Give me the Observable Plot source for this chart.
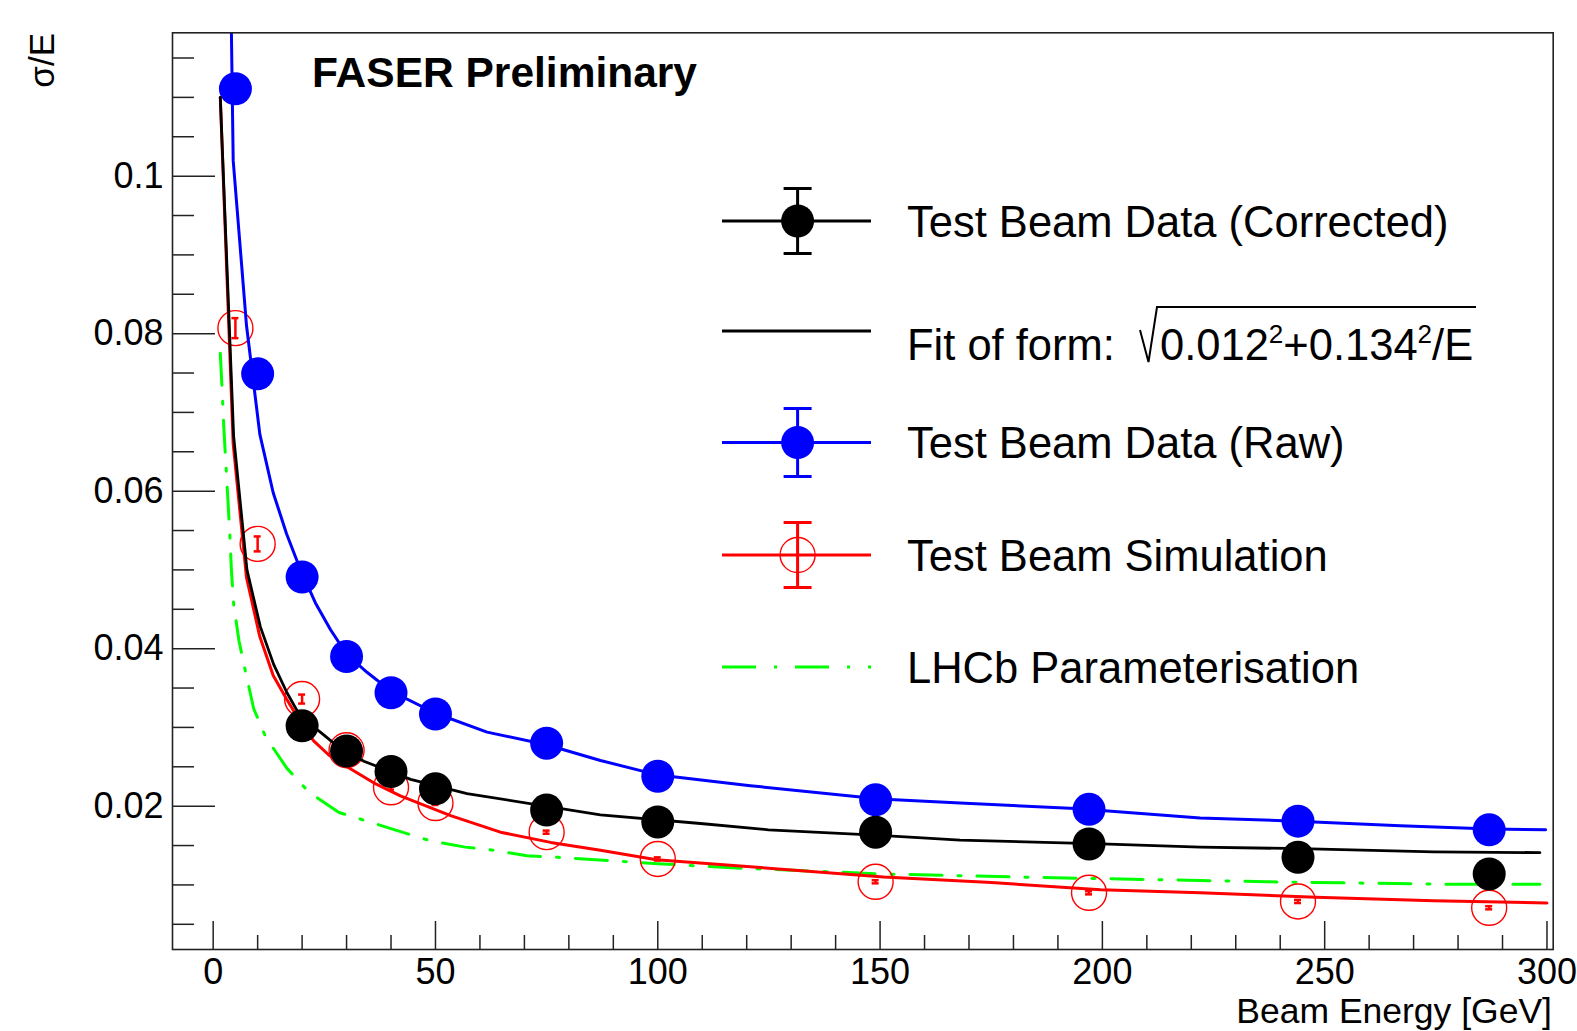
<!DOCTYPE html>
<html><head><meta charset="utf-8">
<script src="https://cdn.jsdelivr.net/npm/d3@7"></script>
<script src="https://cdn.jsdelivr.net/npm/@observablehq/plot@0.6"></script>
<style>html,body{margin:0;padding:0;background:#fff;overflow:hidden}</style>
</head><body><div id="chart"></div>
<script>
// ---- data ----
const energies = [5, 10, 20, 30, 40, 50, 75, 100, 149, 197, 244, 287];
const rawSigma = [0.1111, 0.0749, 0.0491, 0.0390, 0.0344, 0.0317, 0.0280, 0.0238, 0.0208, 0.0196, 0.0181, 0.0170];
const corrEnergies = [20, 30, 40, 50, 75, 100, 149, 197, 244, 287];
const corrSigma = [0.0302, 0.0270, 0.0244, 0.0222, 0.0195, 0.0180, 0.0167, 0.0152, 0.0135, 0.0114];
const simSigma = [0.0807, 0.0533, 0.0336, 0.0271, 0.0224, 0.0204, 0.0167, 0.0133, 0.0104, 0.0090, 0.0079, 0.0071];
const simErr = [0.00127, 0.00095, 0.00057, 0.0004, 0.0003, 0.00025, 0.0002, 0.0002, 0.0002, 0.0002, 0.0002, 0.0002];

// curves as drawn (x in GeV, sigma/E)
const corrFitCurve = [[1.6,0.1100],[4.6,0.0670],[7.6,0.0500],[10.6,0.0428],[13.6,0.0380],[16.6,0.0344],[19.6,0.0314],[24.1,0.0294],[28,0.0276],[33.9,0.0257],[44.4,0.0234],[57.1,0.0216],[87.1,0.0189],[109.6,0.0178],[124.9,0.0170],[150,0.0163],[168,0.0157],[199.7,0.0152],[222,0.0148],[244.6,0.0146],[274.5,0.0142],[298.4,0.0141]];
const rawFitCurve = [[4.1,0.1182],[4.5,0.1020],[7.5,0.0810],[10.5,0.0672],[13.5,0.0598],[16.5,0.0546],[19.5,0.0502],[23.0,0.0458],[26.4,0.0424],[30,0.0393],[34.6,0.0370],[40,0.0346],[50,0.0318],[61.6,0.0294],[75,0.0278],[87.1,0.0258],[99.7,0.0240],[120.8,0.0226],[150,0.0209],[168,0.0204],[193.9,0.0197],[222,0.0185],[243.8,0.0181],[267,0.0175],[287.3,0.0171],[299.7,0.0170]];
const simFitCurve = [[1.6,0.1100],[4.5,0.0660],[7.5,0.0490],[10.5,0.0415],[13.5,0.0366],[16.5,0.0336],[19.5,0.0308],[22.6,0.0283],[26,0.0265],[30.1,0.0250],[36,0.0230],[42.1,0.0213],[53.4,0.0188],[64.6,0.0167],[75.9,0.0154],[87.1,0.0144],[99.7,0.0132],[120.8,0.0123],[150.8,0.0110],[175,0.0103],[199.6,0.0094],[222,0.0090],[248,0.00845],[274.5,0.0080],[300,0.0077]];
const lhcbCurve = [[1.6,0.0775],[2.0,0.0730],[2.4,0.0680],[2.8,0.0640],[3.3,0.0590],[3.7,0.0550],[4.1,0.0500],[4.6,0.0457],[5.8,0.0410],[7.3,0.0370],[9.1,0.0324],[11.8,0.0288],[16.6,0.0248],[21.5,0.0218],[28.3,0.0192],[34.6,0.0181],[42.5,0.0167],[48.9,0.0156],[56.7,0.0148],[63.1,0.0144],[70.6,0.0137],[77.7,0.0135],[100,0.0127],[115.6,0.0122],[150,0.0114],[181,0.0110],[199.6,0.0108],[237,0.0104],[274.5,0.0101],[298.4,0.0101]];

const xMajorTicks = [0, 50, 100, 150, 200, 250, 300];
const xTickLabels = ["0", "50", "100", "150", "200", "250", "300"];
const xMinorTicks = [10,20,30,40,60,70,80,90,110,120,130,140,160,170,180,190,210,220,230,240,260,270,280,290];
const yMajorTicks = [0.02, 0.04, 0.06, 0.08, 0.1];
const yTickLabels = ["0.02", "0.04", "0.06", "0.08", "0.1"];
const yMinorTicks = [0.005,0.01,0.015,0.025,0.03,0.035,0.045,0.05,0.055,0.065,0.07,0.075,0.085,0.09,0.095,0.105,0.11,0.115];

const legendLabels = ["Test Beam Data (Corrected)", "Fit of form:", "Test Beam Data (Raw)", "Test Beam Simulation", "LHCb Parameterisation"];
const titleText = "FASER Preliminary";
const xTitle = "Beam Energy [GeV]";
const yTitle = "σ/E";

// ---- build tables ----
const raw = energies.map((e, i) => ({x: e, y: rawSigma[i]}));
const corr = corrEnergies.map((e, i) => ({x: e, y: corrSigma[i]}));
const sim = energies.map((e, i) => ({x: e, y: simSigma[i], lo: simSigma[i] - simErr[i], hi: simSigma[i] + simErr[i]}));
const pts = a => a.map(([x, y]) => ({x, y}));

const FONT = "'Liberation Sans', Arial, Helvetica, sans-serif";
const W = 1577, H = 1031, mL = 172, mR = 24.3, mT = 32.3, mB = 82;
const fw = W - mL - mR, fh = H - mT - mB;
const TICK = "#222";
const RED = "#ff0000", BLUE = "#0000ff", GREEN = "#00ff00";

const chart = Plot.plot({
  width: W, height: H,
  marginLeft: mL, marginRight: mR, marginTop: mT, marginBottom: mB,
  style: {fontFamily: FONT, background: "#fff", color: "#000"},
  x: {domain: [-9.15, 301.4]},
  y: {domain: [0.0018, 0.1182]},
  marks: [
    Plot.ruleY(yMinorTicks, {y: d => d, insetRight: fw - 22, stroke: TICK, strokeWidth: 1.5}),
    Plot.ruleY(yMajorTicks, {y: d => d, insetRight: fw - 43, stroke: TICK, strokeWidth: 1.5}),
    Plot.ruleX(xMinorTicks, {x: d => d, insetTop: fh - 14, stroke: TICK, strokeWidth: 1.5}),
    Plot.ruleX(xMajorTicks, {x: d => d, insetTop: fh - 28, stroke: TICK, strokeWidth: 1.5}),
    Plot.axisY({ticks: yMajorTicks, tickSize: 0, tickPadding: 9, fontSize: 36, label: null,
      tickFormat: d => yTickLabels[yMajorTicks.indexOf(d)]}),
    Plot.axisX({ticks: xMajorTicks, tickSize: 0, tickPadding: 8.5, fontSize: 36, label: null,
      tickFormat: d => xTickLabels[xMajorTicks.indexOf(d)]}),
    // LHCb parameterisation
    Plot.line(pts(lhcbCurve), {x: "x", y: "y", stroke: GREEN, strokeWidth: 3, strokeDasharray: "32,16,3,16", clip: true}),
    // simulation
    Plot.line(pts(simFitCurve), {x: "x", y: "y", stroke: RED, strokeWidth: 3, clip: true}),
    Plot.ruleX(sim, {x: "x", y1: "lo", y2: "hi", stroke: RED, strokeWidth: 2.5}),
    Plot.ruleY(sim, {y: "hi", x1: "x", x2: "x", insetLeft: -3.5, insetRight: -3.5, stroke: RED, strokeWidth: 2.5}),
    Plot.ruleY(sim, {y: "lo", x1: "x", x2: "x", insetLeft: -3.5, insetRight: -3.5, stroke: RED, strokeWidth: 2.5}),
    Plot.dot(sim, {x: "x", y: "y", r: 17.5, stroke: RED, strokeWidth: 1.4, fill: "none"}),
    // raw
    Plot.line(pts(rawFitCurve), {x: "x", y: "y", stroke: BLUE, strokeWidth: 3, clip: true}),
    Plot.dot(raw, {x: "x", y: "y", r: 16.5, fill: BLUE, stroke: "none"}),
    // corrected
    Plot.line(pts(corrFitCurve), {x: "x", y: "y", stroke: "#000", strokeWidth: 2.8, clip: true}),
    Plot.dot(corr, {x: "x", y: "y", r: 16.5, fill: "#000", stroke: "none"}),
    Plot.frame({stroke: TICK, strokeWidth: 1.6})
  ]
});
document.getElementById("chart").appendChild(chart);

// ---- annotations: title, axis titles, legend ----
const svg = d3.select(chart);
const g = svg.append("g").attr("font-family", FONT).attr("fill", "#000").attr("text-anchor", "start");
g.append("text").attr("x", 312).attr("y", 87).attr("font-size", 42.5).attr("font-weight", "bold").attr("text-anchor", "start").text(titleText);
g.append("text").attr("x", 1552).attr("y", 1022.5).attr("font-size", 35.5).attr("text-anchor", "end").text(xTitle);
g.append("text").attr("transform", "translate(54,33) rotate(-90)").attr("font-size", 35).attr("text-anchor", "end").text(yTitle);

const lx1 = 722, lx2 = 871, mx = 797.6, tx = 907;
function legendLine(y, color, width, dash) {
  const l = g.append("line").attr("x1", lx1).attr("x2", lx2).attr("y1", y).attr("y2", y)
    .attr("stroke", color).attr("stroke-width", width);
  if (dash) l.attr("stroke-dasharray", dash);
}
function legendErr(y, color, half) {
  g.append("line").attr("x1", mx).attr("x2", mx).attr("y1", y - half).attr("y2", y + half).attr("stroke", color).attr("stroke-width", 3);
  [y - half, y + half].forEach(yy => g.append("line").attr("x1", mx - 14).attr("x2", mx + 14)
    .attr("y1", yy).attr("y2", yy).attr("stroke", color).attr("stroke-width", 3));
}
function legendText(y, s) {
  g.append("text").attr("x", tx).attr("y", y + 15.5).attr("font-size", 43.5).attr("text-anchor", "start").text(s);
}
// row 1: corrected
legendLine(221, "#000", 3); legendErr(221, "#000", 32.5);
g.append("circle").attr("cx", mx).attr("cy", 221).attr("r", 16.5).attr("fill", "#000");
legendText(221, legendLabels[0]);
// row 2: fit
legendLine(331, "#000", 3);
g.append("text").attr("x", tx).attr("y", 360).attr("font-size", 43.5).attr("text-anchor", "start").text(legendLabels[1]);
g.append("path").attr("d", "M1140,330 L1148.5,362 L1157,307 L1476,307").attr("fill", "none").attr("stroke", "#000").attr("stroke-width", 2);
const f = g.append("text").attr("x", 1160).attr("y", 360).attr("font-size", 43.5).attr("text-anchor", "start");
f.append("tspan").text("0.012");
f.append("tspan").attr("font-size", 26).attr("dy", -17).text("2");
f.append("tspan").attr("dy", 17).text("+0.134");
f.append("tspan").attr("font-size", 26).attr("dy", -17).text("2");
f.append("tspan").attr("dy", 17).text("/E");
// row 3: raw
legendLine(442.5, BLUE, 3); legendErr(442.5, BLUE, 34);
g.append("circle").attr("cx", mx).attr("cy", 442.5).attr("r", 16.5).attr("fill", BLUE);
legendText(442.5, legendLabels[2]);
// row 4: simulation
legendLine(555, RED, 3); legendErr(555, RED, 32.5);
g.append("circle").attr("cx", mx).attr("cy", 555).attr("r", 17.5).attr("fill", "none").attr("stroke", RED).attr("stroke-width", 1.4);
legendText(555, legendLabels[3]);
// row 5: LHCb
legendLine(667, GREEN, 3, "34,18,3,18");
legendText(667, legendLabels[4]);
</script>
</body></html>
